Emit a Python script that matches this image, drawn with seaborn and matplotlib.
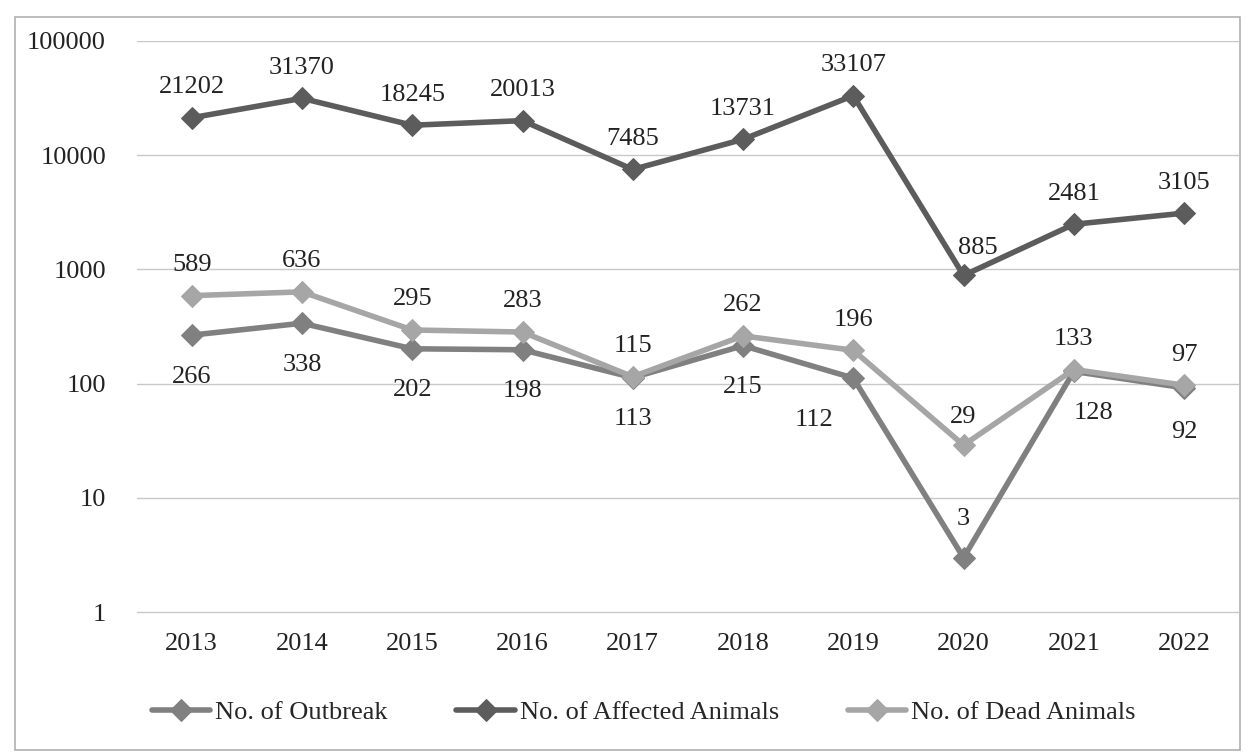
import matplotlib
matplotlib.use("Agg")
import matplotlib.pyplot as plt
import seaborn as sns
import pandas as pd
from matplotlib.patches import Rectangle

# Dados do gráfico
years = ["2013", "2014", "2015", "2016", "2017", "2018", "2019", "2020", "2021", "2022"]
outbreak = [266, 338, 202, 198, 113, 215, 112, 3, 128, 92]
affected = [21202, 31370, 18245, 20013, 7485, 13731, 33107, 885, 2481, 3105]
dead = [589, 636, 295, 283, 115, 262, 196, 29, 133, 97]

series_names = ["No. of Outbreak", "No. of Affected Animals", "No. of Dead Animals"]
series_values = [outbreak, affected, dead]
colors = ["#808080", "#5c5c5c", "#a6a6a6"]

rows = []
for name, vals in zip(series_names, series_values):
    for i, (y, v) in enumerate(zip(years, vals)):
        rows.append({"pos": i, "Year": y, "Value": v, "Series": name})
df = pd.DataFrame(rows)

sns.set_style("white")
plt.rcParams["font.family"] = ["Liberation Serif", "DejaVu Serif"]
FS = 19

fig = plt.figure(figsize=(12.53, 7.55), dpi=100)
ax = fig.add_axes([0.109, 0.187, 0.88, 0.759])

for name, color in zip(series_names, colors):
    sub = df[df["Series"] == name]
    sns.lineplot(data=sub, x="pos", y="Value", ax=ax, color=color, linewidth=4,
                 marker="D", markersize=11, markeredgecolor=color, label=name)

ax.set_yscale("log")
ax.set_ylim(0.97, 100000)
ax.set_xlim(-0.5, 9.5)
ax.set_yticks([1, 10, 100, 1000, 10000, 100000])
ax.set_yticklabels(["1", "10", "100", "1000", "10000", "100000"])
ax.minorticks_off()
ax.set_xticks(range(len(years)))
ax.set_xticklabels(years)
ax.tick_params(axis="both", labelsize=FS, length=0, colors="#222222")
ax.tick_params(axis="y", pad=22)
ax.tick_params(axis="x", pad=14)
ax.grid(axis="y", color="#c8c8c8", linewidth=1)
for s in ax.spines.values():
    s.set_visible(False)
ax.set_xlabel("")
ax.set_ylabel("")

# Rótulos de dados (deslocamentos em pontos)
aff_off = [(0, 22)] * 10
aff_off[7] = (10, 20)
out_off = [(0, -30)] * 10
out_off[6] = (-28, -30)
out_off[7] = (0, 28)
out_off[8] = (14, -30)
out_off[9] = (0, -32)
dead_off = [(0, 22)] * 10
dead_off[7] = (0, 20)

for vals, offs in [(affected, aff_off), (outbreak, out_off), (dead, dead_off)]:
    for i, v in enumerate(vals):
        ax.annotate(str(v), (i, v), xytext=offs[i], textcoords="offset points",
                    ha="center", va="center", fontsize=FS, color="#222222")

leg = ax.legend(loc="upper center", bbox_to_anchor=(0.46, -0.11), ncol=3,
                frameon=False, fontsize=FS, handlelength=2.2, columnspacing=2.6,
                handletextpad=0.2)

fig.patches.append(Rectangle((0.012, 0.007), 0.978, 0.97, transform=fig.transFigure,
                             fill=False, edgecolor="#b0b0b0", linewidth=1.2))

fig.savefig("out.png", dpi=100)
